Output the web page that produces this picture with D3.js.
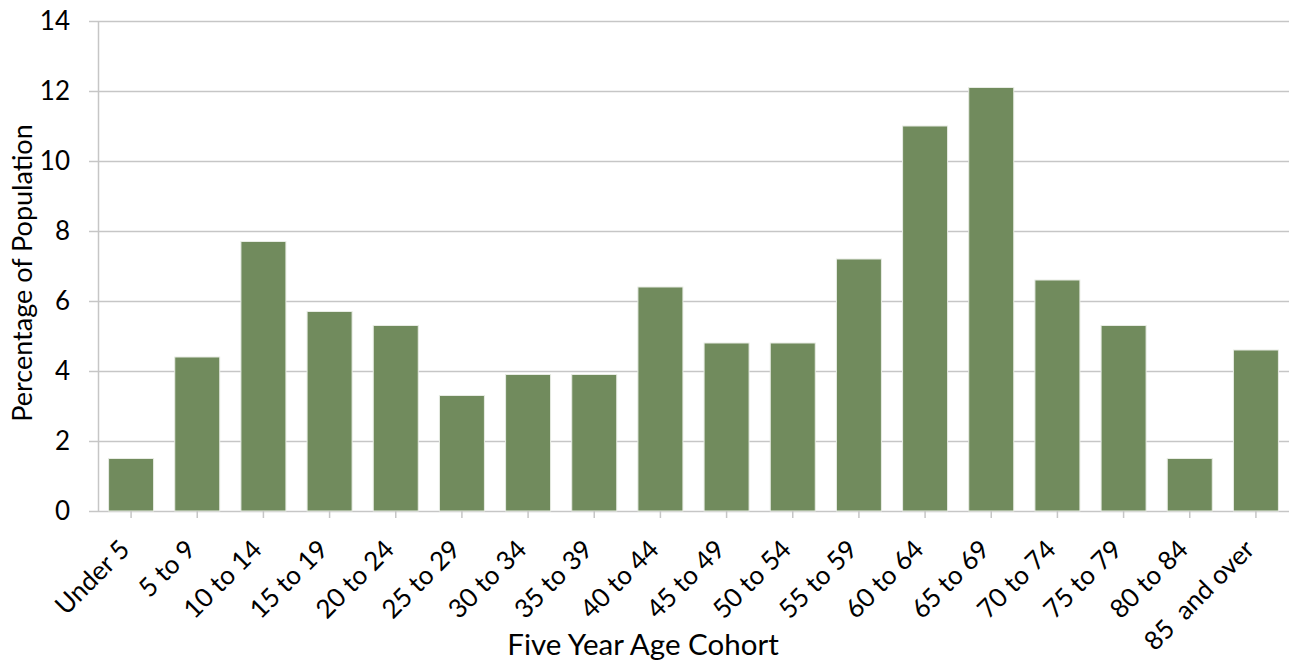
<!DOCTYPE html>
<html>
<head>
<meta charset="utf-8">
<script src="https://cdn.jsdelivr.net/npm/d3@7"></script>
<style>
  html, body { margin: 0; padding: 0; background: #fff; }
  svg { display: block; }
  text { font-family: Lato, "Open Sans", sans-serif; fill: #000; }
</style>
</head>
<body>
<svg id="chart" width="1289" height="662"></svg>
<script>
// Share of population by five-year age cohort
const cohorts = ["Under 5", "5 to 9", "10 to 14", "15 to 19", "20 to 24", "25 to 29",
  "30 to 34", "35 to 39", "40 to 44", "45 to 49", "50 to 54", "55 to 59",
  "60 to 64", "65 to 69", "70 to 74", "75 to 79", "80 to 84", "85  and over"];
const percentages = [1.5, 4.4, 7.7, 5.7, 5.3, 3.3, 3.9, 3.9, 6.4, 4.8, 4.8, 7.2,
  11.0, 12.1, 6.6, 5.3, 1.5, 4.6];
const yTicks = [0, 2, 4, 6, 8, 10, 12, 14];

const svg = d3.select("#chart");
const plot = { left: 98, right: 1289, top: 21, bottom: 511 };

const x = d3.scaleBand()
  .domain(cohorts)
  .range([plot.left, plot.right])
  .paddingInner(0.32)
  .paddingOuter(0.16);

const y = d3.scaleLinear()
  .domain([0, 14])
  .range([plot.bottom, plot.top]);

// horizontal gridlines
svg.append("g")
  .selectAll("line")
  .data(yTicks)
  .join("line")
  .attr("x1", plot.left - 9)
  .attr("x2", plot.right)
  .attr("y1", d => y(d) + 0.5)
  .attr("y2", d => y(d) + 0.5)
  .attr("stroke", "#c6c6c6")
  .attr("stroke-width", 1.5);

// vertical axis line
svg.append("line")
  .attr("x1", plot.left + 0.5).attr("x2", plot.left + 0.5)
  .attr("y1", plot.top).attr("y2", plot.bottom + 1)
  .attr("stroke", "#c6c6c6").attr("stroke-width", 1.5);

// y tick labels
svg.append("g")
  .selectAll("text")
  .data(yTicks)
  .join("text")
  .attr("x", 70)
  .attr("y", d => y(d))
  .attr("dy", "0.36em")
  .attr("text-anchor", "end")
  .style("font-size", "26px")
  .text(d => d);

// bars
svg.append("g")
  .selectAll("rect")
  .data(percentages)
  .join("rect")
  .attr("x", (d, i) => x(cohorts[i]))
  .attr("y", d => y(d))
  .attr("width", x.bandwidth())
  .attr("height", d => y(0) - y(d))
  .attr("fill", "#718b5d")
  .attr("stroke", "#e8ece4")
  .attr("stroke-width", 1);

// x tick marks under each bar
svg.append("g")
  .selectAll("line")
  .data(cohorts)
  .join("line")
  .attr("x1", d => x(d) + x.bandwidth() / 2)
  .attr("x2", d => x(d) + x.bandwidth() / 2)
  .attr("y1", plot.bottom)
  .attr("y2", plot.bottom + 7)
  .attr("stroke", "#c6c6c6")
  .attr("stroke-width", 1.5);

// rotated category labels
svg.append("g")
  .selectAll("text")
  .data(cohorts)
  .join("text")
  .attr("transform", d => `translate(${x(d) + x.bandwidth() / 2},${plot.bottom + 40}) rotate(-45)`)
  .attr("text-anchor", "end")
  .style("font-size", "26px")
  .style("white-space", "pre")
  .text(d => d);

// axis titles
svg.append("text")
  .attr("x", 643)
  .attr("y", 655)
  .attr("text-anchor", "middle")
  .style("font-size", "29.5px")
  .text("Five Year Age Cohort");

svg.append("text")
  .attr("transform", `translate(32,273) rotate(-90)`)
  .attr("text-anchor", "middle")
  .style("font-size", "27px")
  .text("Percentage of Population");
</script>
</body>
</html>
